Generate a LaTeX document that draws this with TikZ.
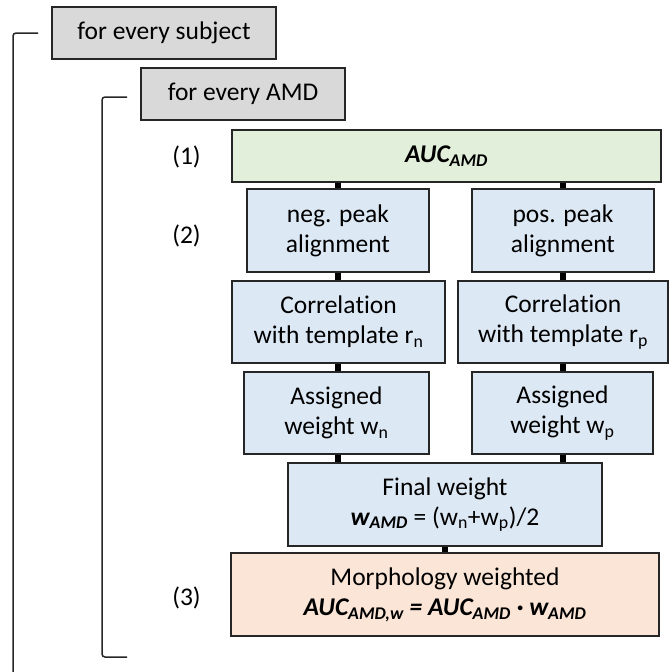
\documentclass[tikz,border=0pt]{standalone}
\usepackage{fontspec}
\setmainfont[Ligatures=CommonOff]{Carlito}
\newcommand{\bi}[1]{\textbf{\textit{#1}}}
\newcommand{\sub}[1]{\textsubscript{#1}}
% spelled with a kern so the font does not join "ti"
\newcommand{\corrword}{Correla\kern0pt tion}
\begin{document}
\begin{tikzpicture}[x=1pt,y=-1pt,
  every node/.style={font=\fontsize{25.5}{30}\selectfont, inner sep=0pt, align=center},
  box/.style={draw=black!85, line width=1.8pt, minimum width=#1},
  loopbox/.style={box=#1, fill=black!15, minimum height=52pt},
  greenbox/.style={box=#1, fill={rgb,255:red,226;green,239;blue,218}, minimum height=52pt},
  bluebox/.style={box=#1, fill={rgb,255:red,221;green,232;blue,245}, minimum height=82pt},
  orangebox/.style={box=#1, fill={rgb,255:red,251;green,229;blue,214}, minimum height=83pt},
  link/.style={line width=5.5pt, black},
  bracketline/.style={line width=1.5pt, black!85, rounded corners=3pt},
  steplabel/.style={anchor=center}
]
\useasboundingbox (0,0) rectangle (669,672);

% loop headers
\node[loopbox=224pt] (subj) at (164,33) {for every subject};
\node[loopbox=204pt] (amd) at (243,94) {for every AMD};

% loop brackets
\coordinate (subjtop) at (38,33);
\coordinate (subjbot) at (13,672);
\draw[bracketline] (subjtop) -- (13,33) -- (subjbot);
\coordinate (amdtop) at (127,97);
\coordinate (amdbot) at (127,657);
\draw[bracketline] (amdtop) -- (102,97) -- (102,657) -- (amdbot);

% step 1
\node[greenbox=429pt] (auc) at (446.5,156) {\bi{AUC\sub{AMD}}};

% step 2: left branch
\node[bluebox=182pt, minimum height=83pt] (neg) at (338,230.5) {neg. peak\\alignment};
\node[bluebox=213pt] (corrL) at (338.5,322) {\corrword\\with template r\sub{n}};
\node[bluebox=185pt] (assL) at (336.5,413) {Assigned\\weight w\sub{n}};

% step 2: right branch
\node[bluebox=182pt, minimum height=83pt] (pos) at (563,230.5) {pos. peak\\alignment};
\node[bluebox=210pt] (corrR) at (563,322) {\corrword\\with template r\sub{p}};
\node[bluebox=181pt] (assR) at (562.5,413) {Assigned\\weight w\sub{p}};

% combined weight
\node[bluebox=314pt, minimum height=83pt] (final) at (445,504.5) {Final weight\\\bi{w\sub{AMD}} = (w\sub{n}+w\sub{p})/2};

% step 3
\node[orangebox=428pt] (morph) at (445,594.5) {Morphology weighted\\\bi{AUC\sub{AMD,w} = AUC\sub{AMD} · w\sub{AMD}}};

% step labels
\node[steplabel] (l1) at (186.5,157) {(1)};
\node[steplabel] (l2) at (186.5,236) {(2)};
\node[steplabel] (l3) at (186.5,598) {(3)};

% connectors
\draw[link] (auc.south -| neg.north) -- (neg.north);
\draw[link] (auc.south -| pos.north) -- (pos.north);
\draw[link] (neg.south) -- (neg.south |- corrL.north);
\draw[link] (pos.south) -- (pos.south |- corrR.north);
\draw[link] (corrL.south -| neg.south) -- (neg.south |- assL.north);
\draw[link] (corrR.south -| pos.south) -- (pos.south |- assR.north);
\draw[link] (assL.south -| neg.south) -- (neg.south |- final.north);
\draw[link] (assR.south -| pos.south) -- (pos.south |- final.north);
\draw[link] (final.south) -- (morph.north);
\end{tikzpicture}
\end{document}
